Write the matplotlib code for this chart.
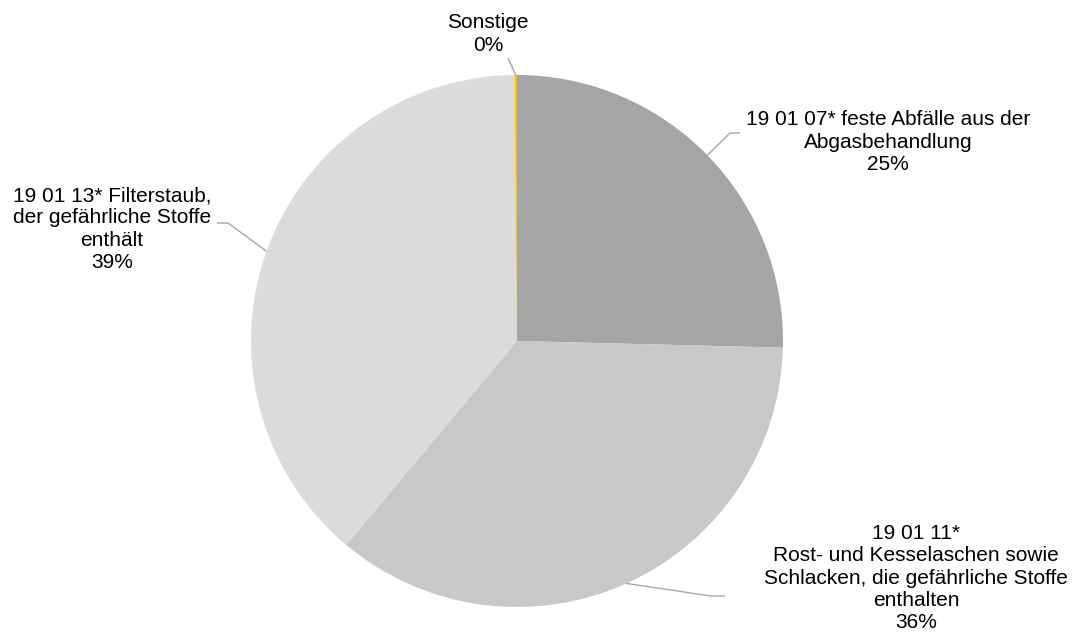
import matplotlib.pyplot as plt
import numpy as np

# Anteile der Abfallarten (in %)
labels = ['19 01 07* feste Abfälle aus der\nAbgasbehandlung',
          '19 01 11*\nRost- und Kesselaschen sowie\nSchlacken, die gefährliche Stoffe\nenthalten',
          '19 01 13* Filterstaub,\nder gefährliche Stoffe\nenthält',
          'Sonstige']
values = [25.4, 35.7, 38.75, 0.15]
colors = ['#a5a5a5', '#c8c8c8', '#dbdbdb', '#ffc000']

W, H = 1079, 639
plt.rcParams['font.family'] = ['Liberation Sans', 'DejaVu Sans']

fig = plt.figure(figsize=(W / 100, H / 100), dpi=100)
ax = fig.add_axes([0, 0, 1, 1])

cx, cy, r = 517, H - 341, 266
wedges, _ = ax.pie(values, colors=colors, startangle=90, counterclock=False,
                   center=(cx, cy), radius=r, frame=True,
                   wedgeprops=dict(linewidth=0))
ax.set_xlim(0, W)
ax.set_ylim(0, H)
ax.set_aspect('equal')
ax.axis('off')

# Textpositionen und Knickpunkte der Führungslinien (Pixel, von oben)
text_pos = [(888, 142), (916, 578), (112, 229), (488, 34)]
elbows = [[(730, 133), (740, 133)],
          [(711, 596), (725, 596)],
          [(228, 223), (217, 223)],
          [(508, 58)]]

total = sum(values)
for w, lab, v, tp, el in zip(wedges, labels, values, text_pos, elbows):
    ang = np.deg2rad((w.theta1 + w.theta2) / 2)
    xs = [cx + r * np.cos(ang)] + [p[0] for p in el]
    ys = [cy + r * np.sin(ang)] + [H - p[1] for p in el]
    ax.plot(xs, ys, color='#a6a6a6', linewidth=1.0, solid_capstyle='butt')
    pct = '{:.0f}%'.format(v / total * 100)
    ax.text(tp[0], H - tp[1], lab + '\n' + pct, ha='center', va='center',
            multialignment='center', fontsize=15.0, linespacing=1.22,
            color='#000000')

fig.savefig('out.png', dpi=100)
